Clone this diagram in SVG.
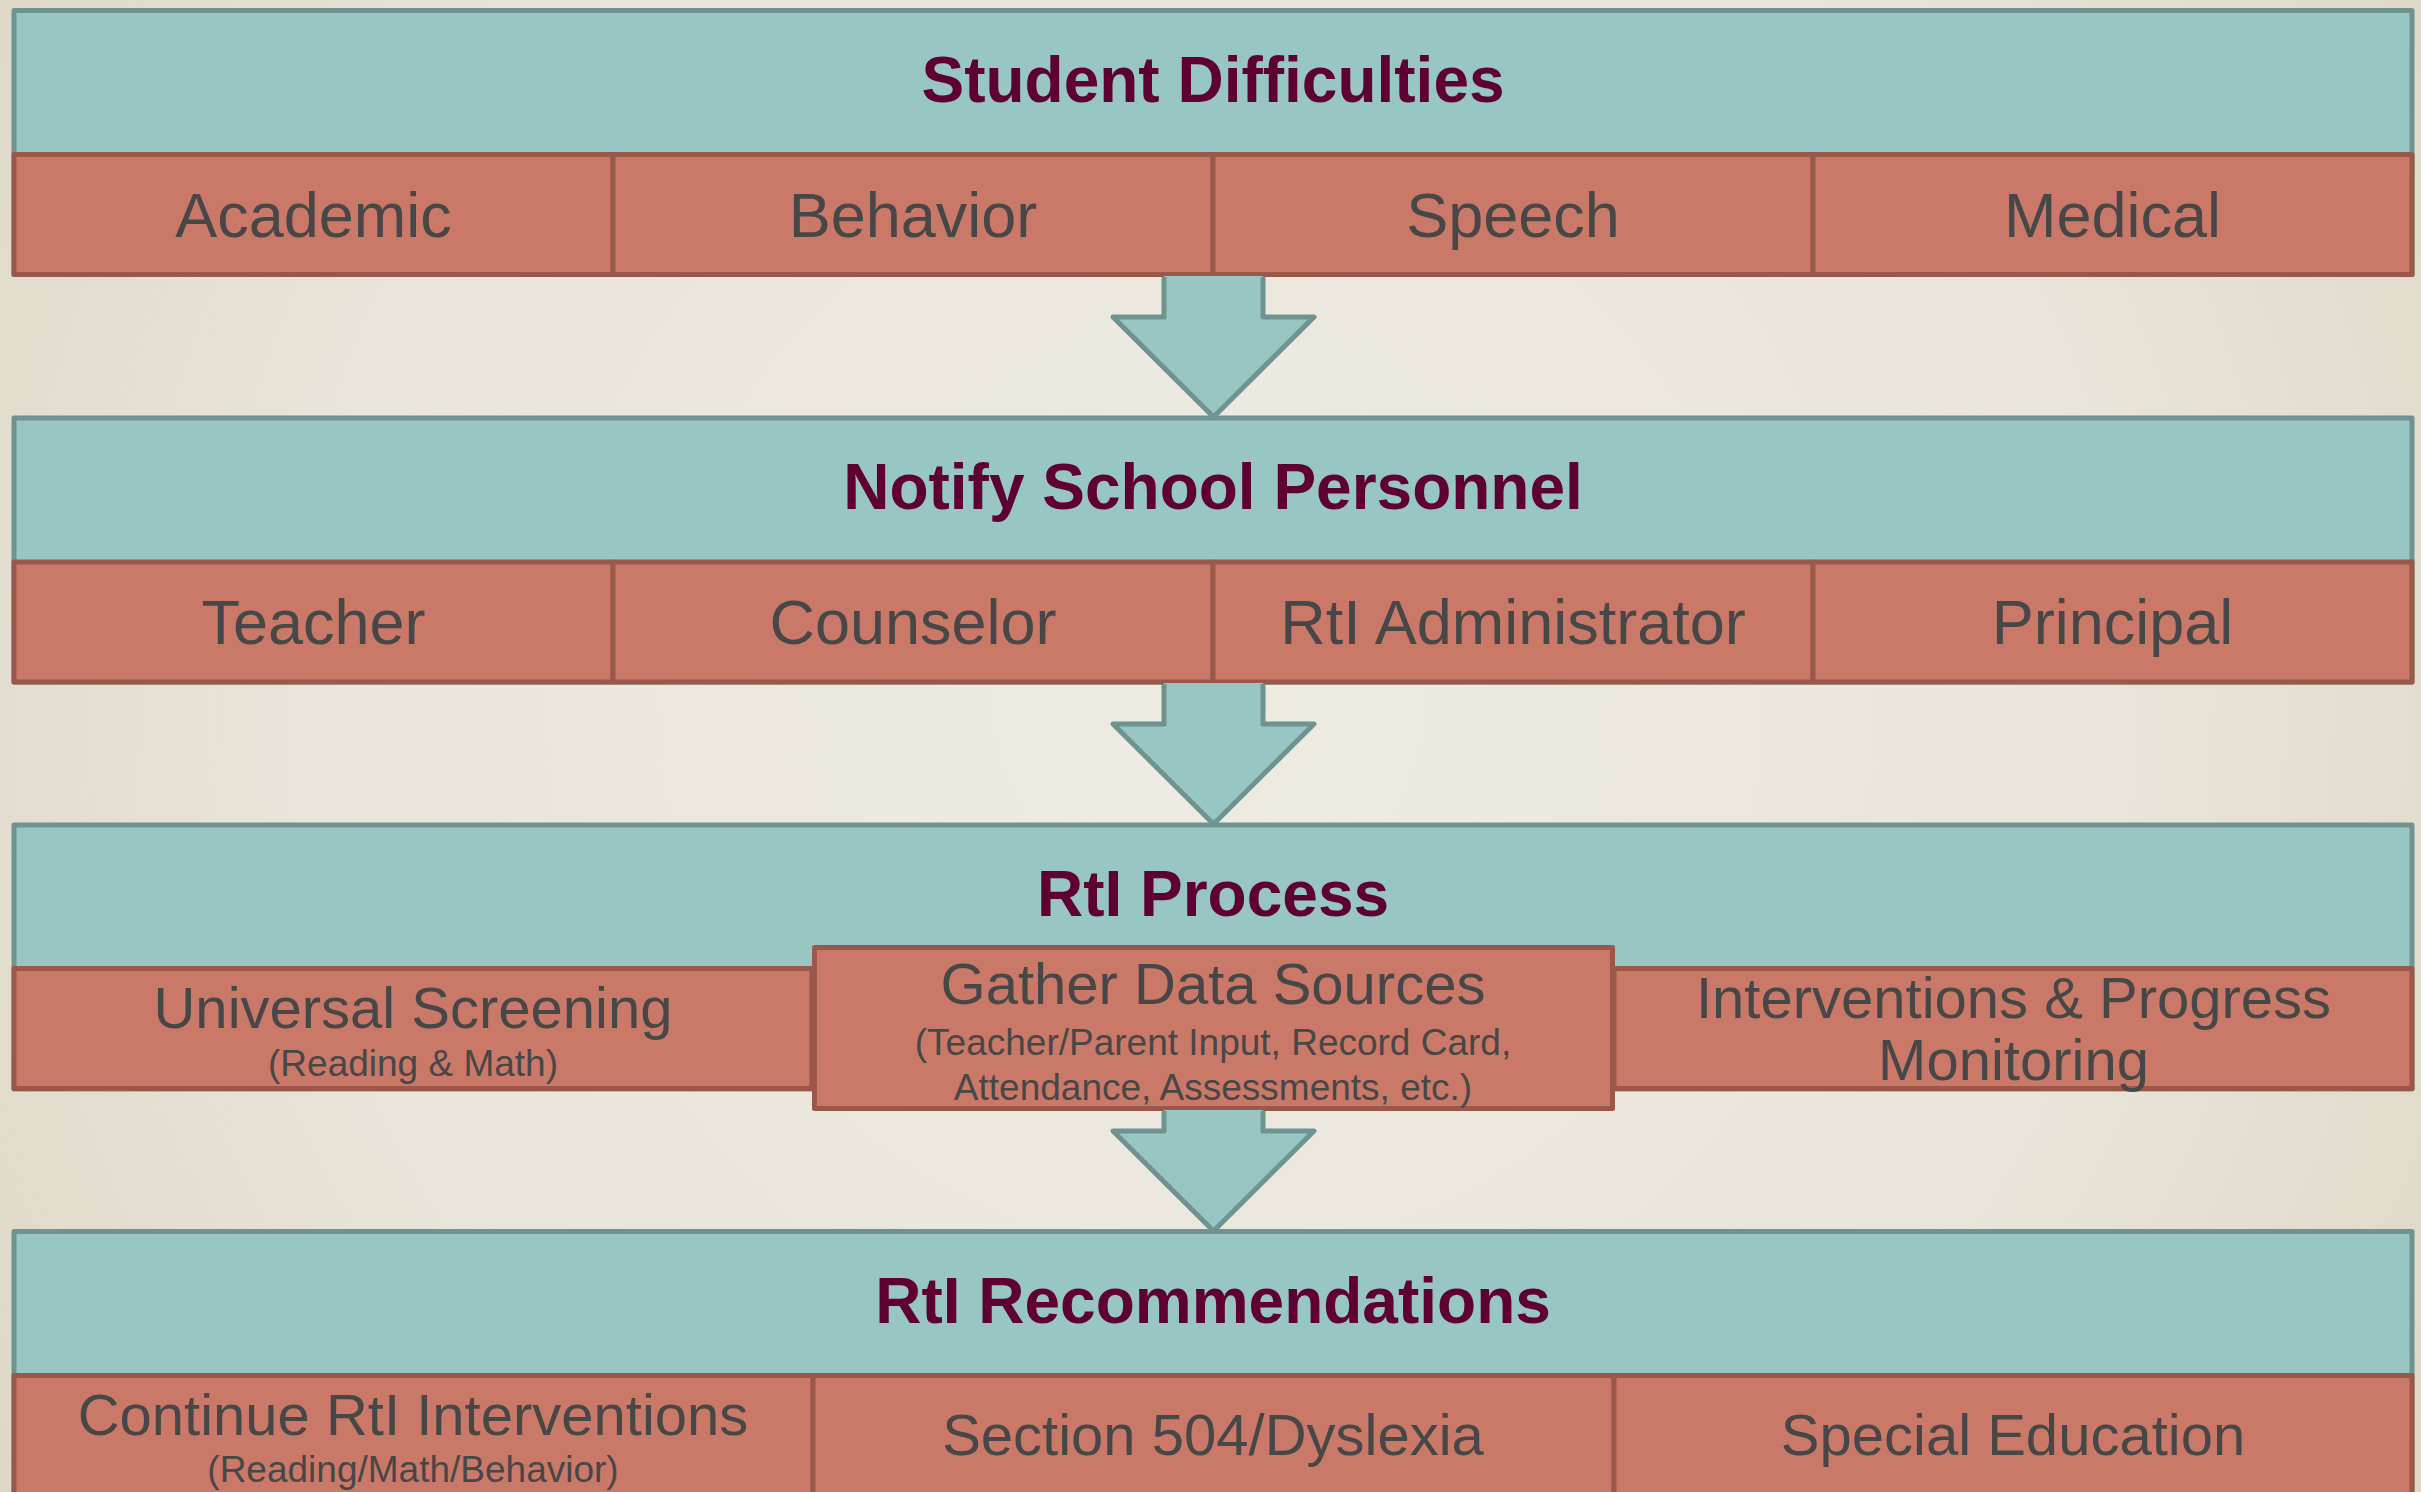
<svg xmlns="http://www.w3.org/2000/svg" width="2421" height="1492" viewBox="0 0 2421 1492">
<defs>
<radialGradient id="bg" cx="1210" cy="700" r="1500" gradientUnits="userSpaceOnUse">
<stop offset="0" stop-color="#EEEBE3"/>
<stop offset="0.6" stop-color="#E9E5DA"/>
<stop offset="1" stop-color="#DDD6C4"/>
</radialGradient>
<style>
.band{fill:#97C6C3;stroke:#6F9391;stroke-width:5;stroke-linejoin:round}
.cell{fill:#CA7969;stroke:#995849;stroke-width:5;stroke-linejoin:round}
.title{font-family:"Liberation Sans",Arial,sans-serif;font-weight:bold;font-size:64px;fill:#5E0032;text-anchor:middle}
.lbl{font-family:"Liberation Sans",Arial,sans-serif;font-size:63px;fill:#474747;text-anchor:middle}
.lbl58{font-family:"Liberation Sans",Arial,sans-serif;font-size:58px;fill:#474747;text-anchor:middle}
.sub{font-family:"Liberation Sans",Arial,sans-serif;font-size:37px;fill:#474747;text-anchor:middle}
.afill{fill:#97C6C3;stroke:none}
.aline{fill:none;stroke:#6F9391;stroke-width:5;stroke-linejoin:round}
</style>
</defs>
<rect x="0" y="0" width="2421" height="1492" fill="url(#bg)"/>

<g id="student-difficulties">
<rect class="band" x="14" y="10.5" width="2398" height="264"/>
<text class="title" x="1213" y="102">Student Difficulties</text>
<rect class="cell" x="14" y="154.5" width="599" height="120"/>
<rect class="cell" x="613" y="154.5" width="600" height="120"/>
<rect class="cell" x="1213" y="154.5" width="600" height="120"/>
<rect class="cell" x="1813" y="154.5" width="599" height="120"/>
<text class="lbl" x="313.5" y="237">Academic</text>
<text class="lbl" x="913" y="237">Behavior</text>
<text class="lbl" x="1513" y="237">Speech</text>
<text class="lbl" x="2112.5" y="237">Medical</text>
</g>

<g id="notify-school-personnel">
<rect class="band" x="14" y="418" width="2398" height="264"/>
<text class="title" x="1213" y="509">Notify School Personnel</text>
<rect class="cell" x="14" y="562" width="599" height="120"/>
<rect class="cell" x="613" y="562" width="600" height="120"/>
<rect class="cell" x="1213" y="562" width="600" height="120"/>
<rect class="cell" x="1813" y="562" width="599" height="120"/>
<text class="lbl" x="313.5" y="644">Teacher</text>
<text class="lbl" x="913" y="644">Counselor</text>
<text class="lbl" x="1513" y="644">RtI Administrator</text>
<text class="lbl" x="2112.5" y="644">Principal</text>
</g>

<g id="rti-process">
<rect class="band" x="14" y="825" width="2398" height="264"/>
<text class="title" x="1213" y="916">RtI Process</text>
<rect class="cell" x="14" y="968.5" width="798" height="120"/>
<rect class="cell" x="1614" y="968.5" width="798" height="120"/>
<rect class="cell" x="814.5" y="947.5" width="798" height="161"/>
<text class="lbl58" x="413" y="1028">Universal Screening</text>
<text class="sub" x="413" y="1076">(Reading &amp; Math)</text>
<text class="lbl58" x="1213" y="1004">Gather Data Sources</text>
<text class="sub" x="1213" y="1055">(Teacher/Parent Input, Record Card,</text>
<text class="sub" x="1213" y="1100">Attendance, Assessments, etc.)</text>
<text class="lbl58" x="2013.5" y="1018">Interventions &amp; Progress</text>
<text class="lbl58" x="2013.5" y="1080">Monitoring</text>
</g>

<g id="rti-recommendations">
<rect class="band" x="14" y="1231.5" width="2398" height="264"/>
<text class="title" x="1213" y="1323">RtI Recommendations</text>
<rect class="cell" x="14" y="1375.5" width="799" height="130"/>
<rect class="cell" x="813" y="1375.5" width="801" height="130"/>
<rect class="cell" x="1614" y="1375.5" width="798" height="130"/>
<text class="lbl58" x="413" y="1435">Continue RtI Interventions</text>
<text class="sub" x="413" y="1482">(Reading/Math/Behavior)</text>
<text class="lbl58" x="1213" y="1455">Section 504/Dyslexia</text>
<text class="lbl58" x="2013" y="1455">Special Education</text>
</g>

<g id="connectors">
<g id="arrow-1">
<polygon class="afill" points="1164,276 1164,317 1113,317 1213.5,417 1314,317 1263,317 1263,276"/>
<polyline class="aline" points="1164,277 1164,317 1113,317 1213.5,417 1314,317 1263,317 1263,277"/>
</g>
<g id="arrow-2">
<polygon class="afill" points="1164,683 1164,724 1113,724 1213.5,824 1314,724 1263,724 1263,683"/>
<polyline class="aline" points="1164,684 1164,724 1113,724 1213.5,824 1314,724 1263,724 1263,684"/>
</g>
<g id="arrow-3">
<polygon class="afill" points="1164,1110 1164,1131 1113,1131 1213.5,1231 1314,1131 1263,1131 1263,1110"/>
<polyline class="aline" points="1164,1111 1164,1131 1113,1131 1213.5,1231 1314,1131 1263,1131 1263,1111"/>
</g>
</g>
</svg>
